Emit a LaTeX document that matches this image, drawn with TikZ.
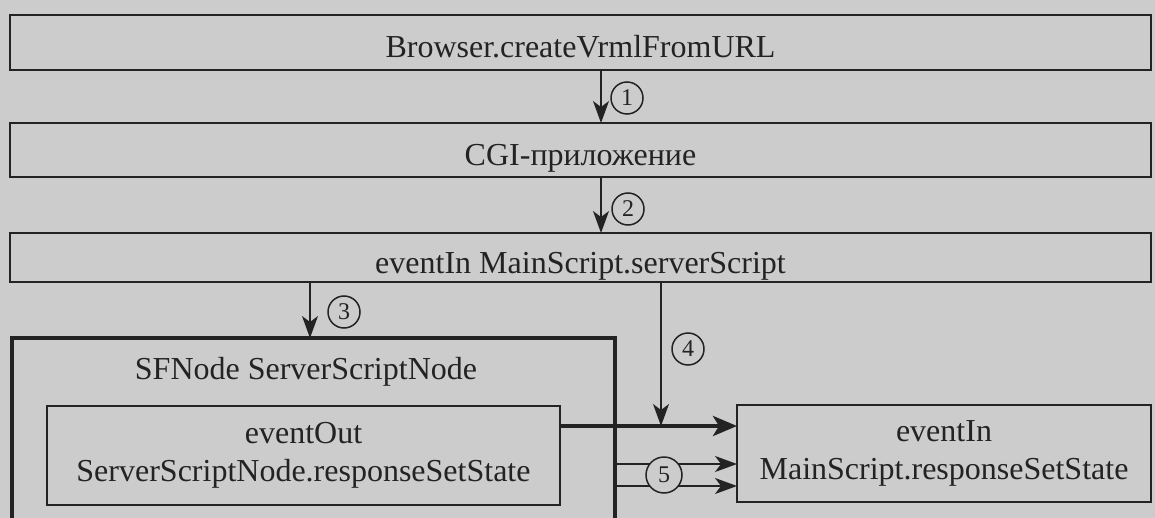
\documentclass[tikz,border=0pt]{standalone}
\usepackage{fontspec}
\setmainfont{Liberation Serif}
\usetikzlibrary{arrows.meta}
\definecolor{paper}{RGB}{204,204,204}
\definecolor{ink}{RGB}{35,35,35}

\begin{document}
\begin{tikzpicture}[x=0.5pt,y=-0.5pt,line width=0.75pt,color=ink,
  box/.style={draw,rectangle,inner sep=0pt,outer sep=0pt,align=center,
    font=\fontsize{16}{19}\selectfont},
  lowtext/.style={text height=15.5pt,text depth=0pt},
  num/.style={draw,circle,fill=paper,minimum size=16pt,inner sep=0pt,
    font=\fontsize{12}{12}\selectfont},
  arr/.style={-{Stealth[length=11pt,width=8pt,inset=3pt]}}]
 \fill[paper] (0,0) rectangle (1155,518);
 \clip (0,0) rectangle (1155,518);
 % boxes
 \node[box,lowtext,minimum width=570.5pt,minimum height=27.5pt] (vrml) at (580.5,42.5) {Browser.createVrmlFromURL};
 \node[box,lowtext,minimum width=570.5pt,minimum height=27pt] (cgi) at (580.5,150) {CGI-приложение};
 \node[box,lowtext,minimum width=570.5pt,minimum height=24.5pt] (server) at (580.5,257.5) {eventIn MainScript.serverScript};
 \node[box,line width=2pt,minimum width=301.5pt,minimum height=101pt] (sfnode) at (313.5,439) {};
 \node[font=\fontsize{16}{19}\selectfont] (sftitle) at (306,372) {SFNode ServerScriptNode};
 \node[box,minimum width=256.5pt,minimum height=49.5pt] (out) at (303.5,455.5) {eventOut\\ServerScriptNode.responseSetState};
 \node[box,minimum width=207pt,minimum height=48.5pt] (in) at (944,453.5) {eventIn\\MainScript.responseSetState};
 % connectors
 \foreach \a/\b/\x in {vrml/cgi/601,cgi/server/601,server/sfnode/310}{%
   \draw[arr] (\a.south -| \x,0) -- (\b.north -| \x,0);
 }
 \coordinate (join) at (661,426);
 \draw[-{Stealth[length=12pt,width=10pt,inset=3pt]},line width=2pt] (out.east |- join) -- (in.west |- join);
 \draw[arr] (server.south -| join) -- (join);
 \foreach \y in {464,486}{%
   \draw[arr] (sfnode.east |- 0,\y) -- (in.west |- 0,\y);
 }
 % step numbers
 \node[num] (n1) at (627,98) {1};
 \node[num] (n2) at (628,209) {2};
 \node[num] (n3) at (344,312) {3};
 \node[num] (n4) at (688,349) {4};
 \node[num,minimum size=18pt] (n5) at (664,475) {5};
\end{tikzpicture}
\end{document}
